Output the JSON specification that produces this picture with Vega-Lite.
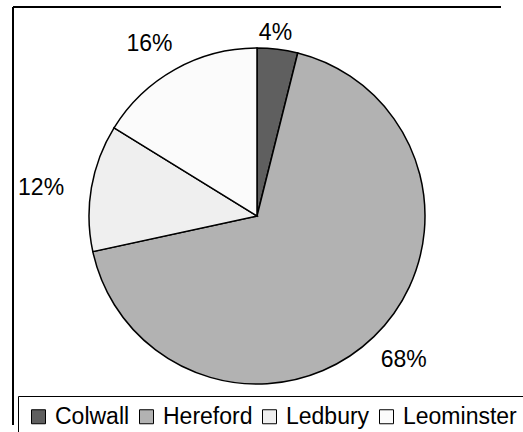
{
  "$schema": "https://vega.github.io/schema/vega-lite/v6.json",
  "autosize": "none",
  "padding": {"left": 13, "top": 7, "right": 22, "bottom": 7},
  "width": 488,
  "height": 418,
  "background": "white",
  "view": {"stroke": "black", "strokeWidth": 2, "strokeDash": [488, 906, 418, 0]},
  "config": {
    "font": "Liberation Sans"
  },
  "data": {
    "values": [
      {"city": "Colwall", "value": 3.9, "label": "4%"},
      {"city": "Hereford", "value": 67.7, "label": "68%"},
      {"city": "Ledbury", "value": 12.2, "label": "12%"},
      {"city": "Leominster", "value": 16.2, "label": "16%"}
    ]
  },
  "encoding": {
    "theta": {"field": "value", "type": "quantitative", "stack": true},
    "order": {"field": "city", "type": "ordinal"}
  },
  "layer": [
    {
      "mark": {"type": "arc", "outerRadius": 168, "stroke": "black", "strokeWidth": 1.5},
      "encoding": {
        "color": {
          "field": "city",
          "type": "nominal",
          "scale": {
            "domain": ["Colwall", "Hereford", "Ledbury", "Leominster"],
            "range": ["#5f5f5f", "#b2b2b2", "#efefef", "#fbfbfb"]
          },
          "legend": {
            "orient": "none",
            "legendX": 5,
            "legendY": 389,
            "direction": "horizontal",
            "title": null,
            "symbolType": "square",
            "symbolSize": 196,
            "symbolStrokeColor": "black",
            "symbolStrokeWidth": 1,
            "symbolOpacity": 1,
            "labelFont": "Liberation Sans",
            "labelFontSize": 23,
            "labelColor": "black",
            "labelOffset": 5,
            "columnPadding": 5,
            "strokeColor": "black",
            "padding": 9
          }
        }
      }
    },
    {
      "mark": {"type": "text", "radius": 184, "dx": -4, "font": "Liberation Sans", "fontSize": 23, "color": "black"},
      "encoding": {"text": {"condition": {"test": "datum.city === 'Colwall'", "field": "label"}, "value": ""}}
    },
    {
      "mark": {"type": "text", "radius": 205, "dx": 4, "dy": -3, "font": "Liberation Sans", "fontSize": 23, "color": "black"},
      "encoding": {"text": {"condition": {"test": "datum.city === 'Hereford'", "field": "label"}, "value": ""}}
    },
    {
      "mark": {"type": "text", "radius": 215, "dx": -4, "dy": 8, "font": "Liberation Sans", "fontSize": 23, "color": "black"},
      "encoding": {"text": {"condition": {"test": "datum.city === 'Ledbury'", "field": "label"}, "value": ""}}
    },
    {
      "mark": {"type": "text", "radius": 200, "dx": -10, "dy": 3, "font": "Liberation Sans", "fontSize": 23, "color": "black"},
      "encoding": {"text": {"condition": {"test": "datum.city === 'Leominster'", "field": "label"}, "value": ""}}
    }
  ]
}
